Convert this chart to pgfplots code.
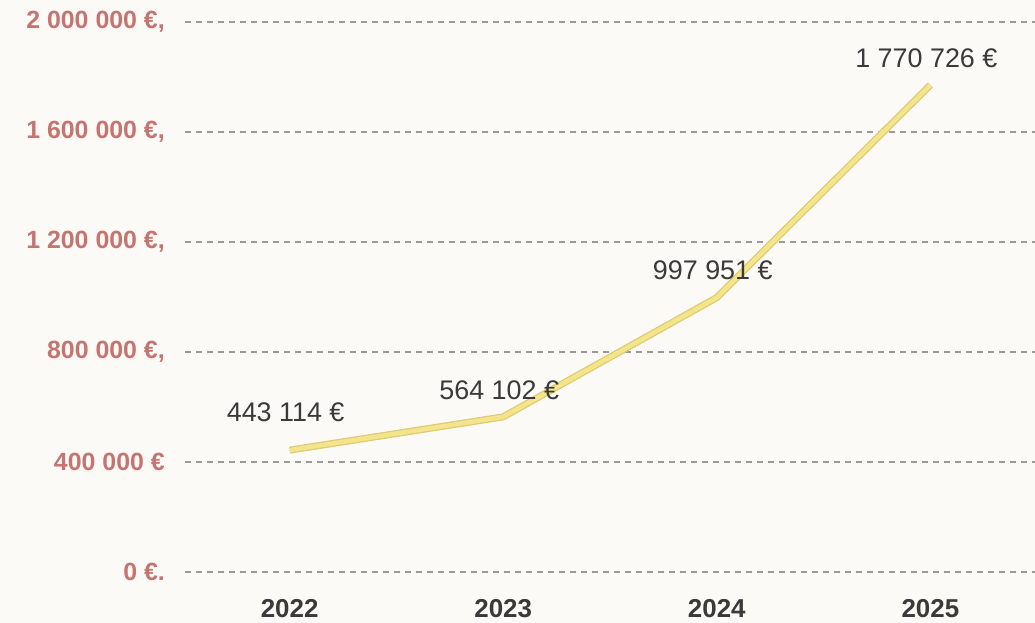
\documentclass[border=0pt]{standalone}
\usepackage{pgfplots}
\pgfplotsset{compat=1.18}
\usepackage{fontspec}
\setmainfont{Liberation Sans}
\definecolor{bg}{HTML}{FCFAF7}
\definecolor{tickpink}{HTML}{C6746F}
\definecolor{labgray}{HTML}{3A3A3A}
\definecolor{gridgray}{HTML}{9A9A9A}
\definecolor{lineedge}{HTML}{DCCB70}
\definecolor{linefill}{HTML}{F4E48C}
\begin{document}
\begin{tikzpicture}
\useasboundingbox (-185bp,-51bp) rectangle (850bp,572bp);
\fill[bg] (-185bp,-51bp) rectangle (850bp,572bp);
\begin{axis}[
  at={(0,0)}, anchor=south west,
  scale only axis, width=850bp, height=550bp,
  xmin=-0.49, xmax=3.49, ymin=0, ymax=2000000,
  clip=false,
  axis line style={draw=none},
  major tick length=0pt,
  xtick={0,1,2,3},
  xticklabels={2022,2023,2024,2025},
  ytick={0,400000,800000,1200000,1600000,2000000},
  yticklabels={{0 €.},{400 000 €},{800 000 €,},{1 200 000 €,},{1 600 000 €,},{2 000 000 €,}},
  scaled y ticks=false,
  ymajorgrids,
  major grid style={gridgray, line width=1.4bp, dash pattern=on 6bp off 5bp},
  yticklabel style={anchor=east, inner sep=0pt, xshift=-20bp, text=tickpink, font=\fontsize{25}{29}\selectfont\bfseries},
  xticklabel style={anchor=base, inner sep=0pt, yshift=-45bp, text=labgray, font=\fontsize{26}{30}\selectfont\bfseries},
]
\addplot[lineedge, line width=7bp, line join=round] coordinates {
  (0,443114) (1,564102) (2,997951) (3,1770726)
};
\addplot[linefill, line width=4.5bp, line join=round,
  point meta=explicit symbolic,
  nodes near coords,
  every node near coord/.append style={anchor=center, yshift=27bp, xshift=-4bp, inner sep=0pt, text=labgray, font=\fontsize{27}{31}\selectfont},
  coordinate style/.condition={x==0}{yshift=11bp},
] coordinates {
  (0,443114) [443 114 €]
  (1,564102) [564 102 €]
  (2,997951) [997 951 €]
  (3,1770726) [1 770 726 €]
};
\end{axis}
\end{tikzpicture}
\end{document}
